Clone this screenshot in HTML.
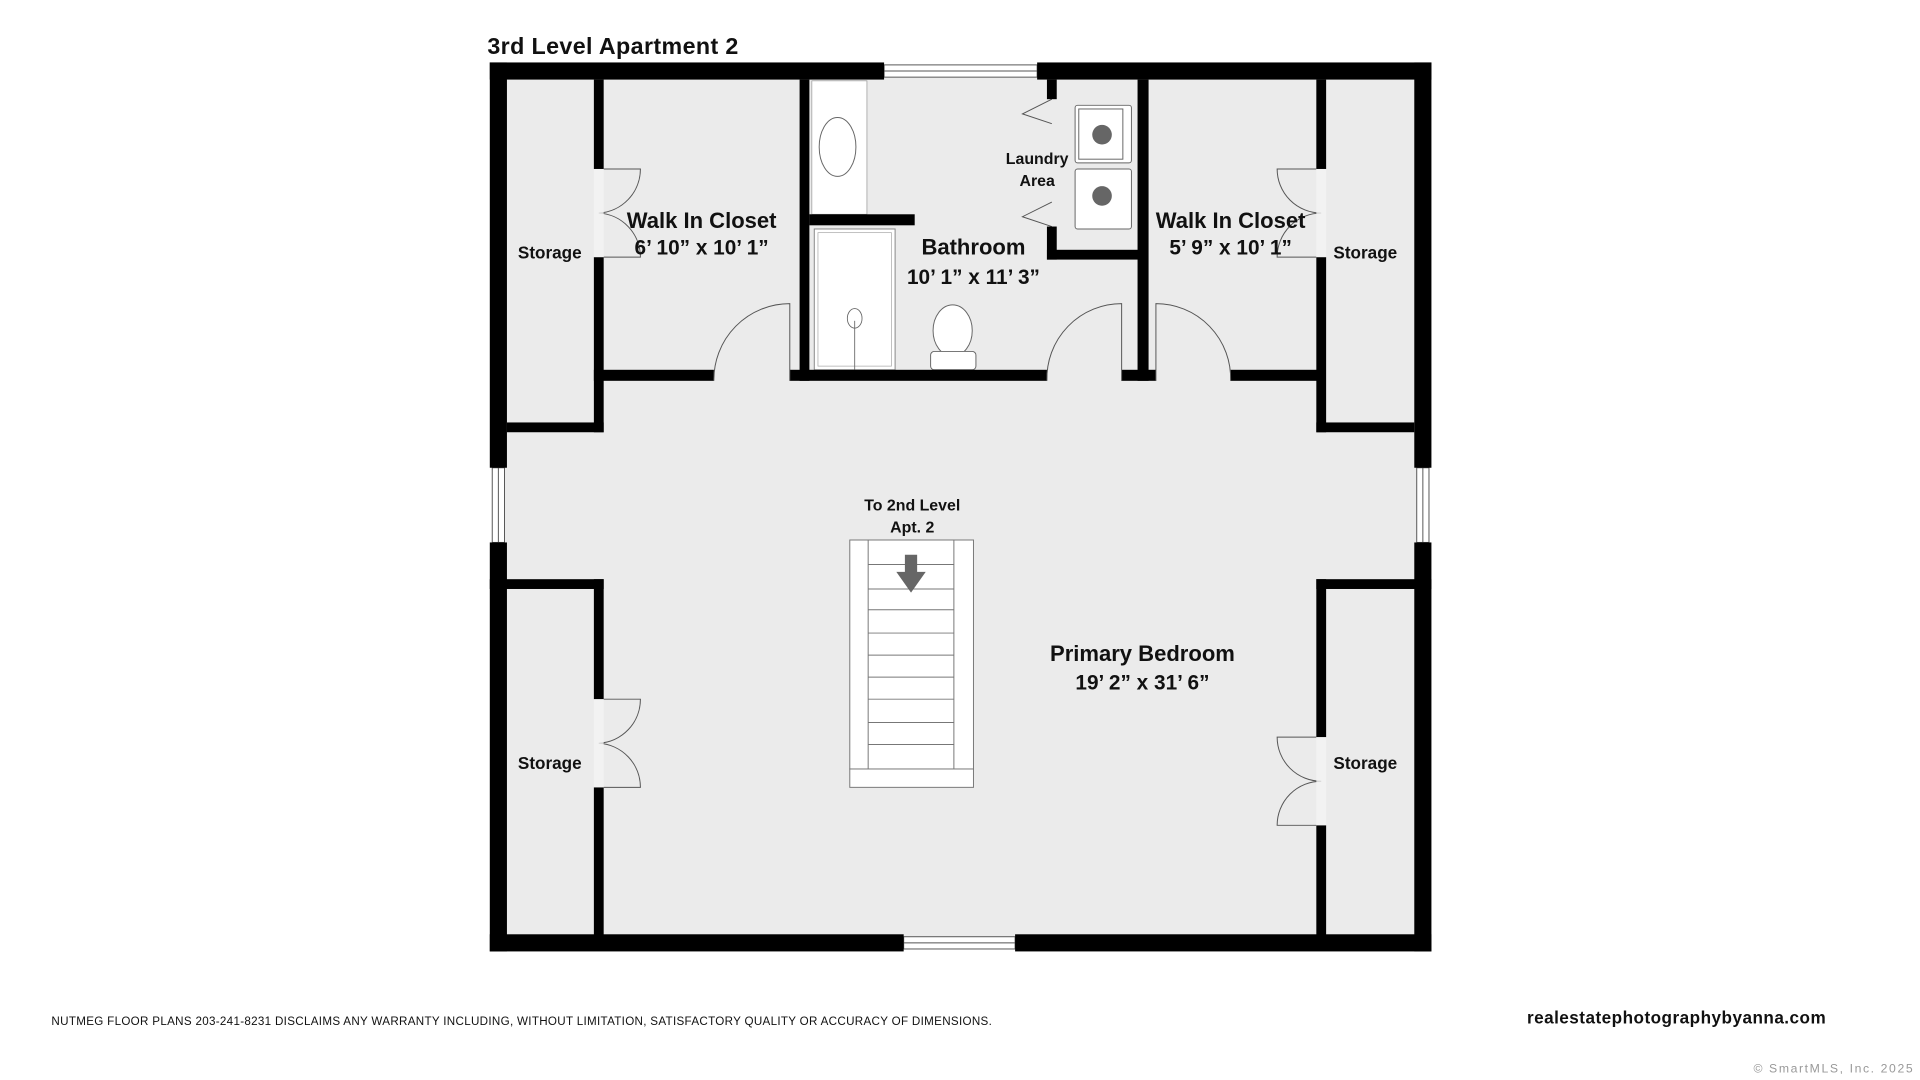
<!DOCTYPE html>
<html><head><meta charset="utf-8"><style>
html,body{margin:0;padding:0;background:#fff;width:1920px;height:1080px;overflow:hidden}
svg{display:block}
text{font-family:"Liberation Sans",sans-serif;font-weight:bold;fill:#111}
</style></head><body>
<svg width="1920" height="1080" viewBox="0 0 1568 882" preserveAspectRatio="none">
<rect x="0" y="0" width="1568" height="882" fill="#fff"/>
<rect x="407" y="58" width="755" height="712" fill="#ebebeb"/>
<g fill="#fff" stroke="#555" stroke-width="0.8">
<rect x="722" y="53" width="125" height="10"/>
<rect x="402" y="382" width="10" height="61"/>
<rect x="1157" y="382" width="10" height="61"/>
<rect x="738" y="765" width="91" height="10"/>
</g>
<g stroke="#555" stroke-width="0.8">
<line x1="722" y1="58" x2="847" y2="58"/><line x1="407" y1="382" x2="407" y2="443"/>
<line x1="1162" y1="382" x2="1162" y2="443"/><line x1="738" y1="770" x2="829" y2="770"/>
</g>
<rect x="663" y="66" width="45" height="109" fill="#fff" stroke="#999" stroke-width="0.6"/>
<ellipse cx="684" cy="120" rx="15" ry="24" fill="#fff" stroke="#666" stroke-width="0.8"/>
<rect x="665" y="187" width="66" height="115" fill="#fff" stroke="#888" stroke-width="0.8"/>
<rect x="668" y="190" width="60" height="109" fill="none" stroke="#aaa" stroke-width="0.6"/>
<ellipse cx="698" cy="260" rx="6" ry="8" fill="none" stroke="#666" stroke-width="0.7"/>
<line x1="698" y1="262" x2="698" y2="302" stroke="#666" stroke-width="0.7"/>
<ellipse cx="778" cy="270" rx="16" ry="21" fill="#fff" stroke="#666" stroke-width="0.8"/>
<rect x="760" y="287" width="37" height="15" rx="3" fill="#fff" stroke="#666" stroke-width="0.8"/>
<g fill="#fff" stroke="#666" stroke-width="0.8">
<rect x="878" y="86" width="46" height="47" rx="2"/><rect x="881" y="89" width="36" height="41"/>
<rect x="878" y="138" width="46" height="49" rx="2"/>
</g>
<circle cx="900" cy="110" r="8" fill="#666"/><circle cx="900" cy="160" r="8" fill="#666"/>
<polyline points="859,81 835,93 859,101" fill="none" stroke="#555" stroke-width="0.8"/>
<polyline points="859,165 835,177 859,185" fill="none" stroke="#555" stroke-width="0.8"/>
<g fill="#000">
<rect x="400" y="51" width="322" height="14"/><rect x="847" y="51" width="322" height="14"/>
<rect x="400" y="51" width="14" height="331"/><rect x="400" y="443" width="14" height="334"/>
<rect x="1155" y="51" width="14" height="331"/><rect x="1155" y="443" width="14" height="334"/>
<rect x="400" y="763" width="338" height="14"/><rect x="829" y="763" width="340" height="14"/>
<rect x="485" y="65" width="8" height="73"/><rect x="485" y="210" width="8" height="143"/>
<rect x="414" y="345" width="79" height="8"/>
<rect x="1075" y="65" width="8" height="73"/><rect x="1075" y="210" width="8" height="143"/>
<rect x="1075" y="345" width="80" height="8"/>
<rect x="653" y="65" width="8" height="246"/>
<rect x="485" y="302" width="98" height="9"/><rect x="645" y="302" width="210" height="9"/>
<rect x="916" y="302" width="28" height="9"/><rect x="1005" y="302" width="75" height="9"/>
<rect x="661" y="175" width="86" height="9"/>
<rect x="855" y="65" width="8" height="16"/><rect x="855" y="185" width="8" height="27"/>
<rect x="855" y="204" width="80" height="8"/>
<rect x="929" y="65" width="9" height="246"/>
<rect x="400" y="473" width="93" height="8"/><rect x="485" y="473" width="8" height="98"/><rect x="485" y="643" width="8" height="127"/>
<rect x="1075" y="473" width="94" height="8"/><rect x="1075" y="473" width="8" height="129"/><rect x="1075" y="674" width="8" height="96"/>
</g>
<g fill="none" stroke="#555" stroke-width="0.8">
<path d="M645,311 V248 A62,62 0 0 0 583,311"/>
<path d="M916,311 V248 A61,61 0 0 0 855,311"/>
<path d="M944,311 V248 A61,61 0 0 1 1005,311"/>
<path d="M493,138 H523 A36,36 0 0 1 489,174 A36,36 0 0 1 523,210 H493"/>
<path d="M1075,138 H1043 A36,36 0 0 0 1079,174 A36,36 0 0 0 1043,210 H1075"/>
<path d="M493,571 H523 A36,36 0 0 1 489,607 A36,36 0 0 1 523,643 H493"/>
<path d="M1075,602 H1043 A36,36 0 0 0 1079,638 A36,36 0 0 0 1043,674 H1075"/>
</g>
<g fill="#f4f4f4" opacity="0.8"><rect x="485" y="138" width="8" height="72"/><rect x="1075" y="138" width="8" height="72"/><rect x="485" y="571" width="8" height="72"/><rect x="1075" y="602" width="8" height="72"/></g>
<rect x="694" y="441" width="101" height="187" fill="#fff" stroke="#777" stroke-width="0.8"/>
<rect x="709" y="441" width="70" height="187" fill="#fff" stroke="#777" stroke-width="0.8"/>
<rect x="694" y="628" width="101" height="15" fill="#fff" stroke="#777" stroke-width="0.8"/>
<g stroke="#777" stroke-width="0.8">
<line x1="709" y1="461" x2="779" y2="461"/><line x1="709" y1="481" x2="779" y2="481"/>
<line x1="709" y1="498" x2="779" y2="498"/><line x1="709" y1="517" x2="779" y2="517"/>
<line x1="709" y1="535" x2="779" y2="535"/><line x1="709" y1="553" x2="779" y2="553"/>
<line x1="709" y1="571" x2="779" y2="571"/><line x1="709" y1="590" x2="779" y2="590"/>
<line x1="709" y1="608" x2="779" y2="608"/>
</g>
<polygon points="739,453 749,453 749,467 756,467 744,484 732,467 739,467" fill="#666"/>
<text x="398" y="44" font-size="19" textLength="205">3rd Level Apartment 2</text>
<text x="573" y="186" font-size="18" text-anchor="middle">Walk In Closet</text>
<text x="573" y="208" font-size="17" text-anchor="middle">6’ 10” x 10’ 1”</text>
<text x="795" y="208" font-size="18" text-anchor="middle">Bathroom</text>
<text x="795" y="232" font-size="17" text-anchor="middle">10’ 1” x 11’ 3”</text>
<text x="847" y="134" font-size="13" text-anchor="middle">Laundry</text>
<text x="847" y="152" font-size="13" text-anchor="middle">Area</text>
<text x="1005" y="186" font-size="18" text-anchor="middle">Walk In Closet</text>
<text x="1005" y="208" font-size="17" text-anchor="middle">5’ 9” x 10’ 1”</text>
<text x="449" y="211" font-size="14" text-anchor="middle">Storage</text>
<text x="1115" y="211" font-size="14" text-anchor="middle">Storage</text>
<text x="449" y="628" font-size="14" text-anchor="middle">Storage</text>
<text x="1115" y="628" font-size="14" text-anchor="middle">Storage</text>
<text x="745" y="417" font-size="13" text-anchor="middle">To 2nd Level</text>
<text x="745" y="435" font-size="13" text-anchor="middle">Apt. 2</text>
<text x="933" y="540" font-size="18" text-anchor="middle">Primary Bedroom</text>
<text x="933" y="563" font-size="17" text-anchor="middle">19’ 2” x 31’ 6”</text>
<text x="42" y="837" font-size="9.5" style="font-weight:normal" textLength="768">NUTMEG FLOOR PLANS 203-241-8231 DISCLAIMS ANY WARRANTY INCLUDING, WITHOUT LIMITATION, SATISFACTORY QUALITY OR ACCURACY OF DIMENSIONS.</text>
<text x="1247" y="836" font-size="14" textLength="244">realestatephotographybyanna.com</text>
<text x="1432" y="876" font-size="10" style="font-weight:normal;fill:#999" textLength="130">© SmartMLS, Inc.  2025</text>
</svg>
</body></html>
